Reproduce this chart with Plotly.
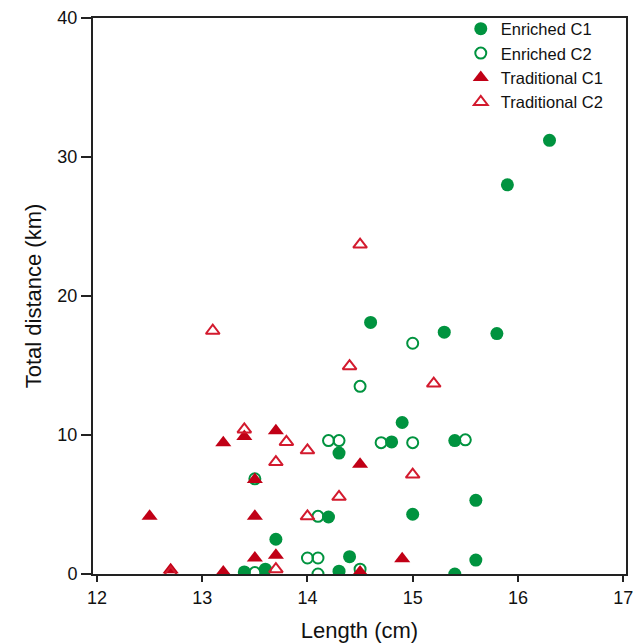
import plotly.graph_objects as go

# Enriched C1 (filled circles)
enr_c1_x = [16.3, 15.9, 14.6, 15.3, 15.8, 14.9, 14.8, 15.4, 14.3, 14.2, 15.0, 15.6, 15.6, 15.4, 14.4, 14.3, 13.7, 13.4, 13.6]
enr_c1_y = [31.2, 28.0, 18.1, 17.4, 17.3, 10.9, 9.5, 9.6, 8.7, 4.1, 4.3, 5.3, 1.0, 0.0, 1.25, 0.2, 2.5, 0.15, 0.35]

# Enriched C2 (open circles)
enr_c2_x = [15.0, 14.5, 14.2, 14.3, 14.7, 15.0, 15.5, 14.1, 14.0, 14.1, 14.1, 14.5, 13.5, 13.5]
enr_c2_y = [16.6, 13.5, 9.6, 9.6, 9.45, 9.45, 9.65, 4.15, 1.15, 1.15, 0.0, 0.35, 0.1, 6.85]

# Traditional C1 (filled triangles)
trad_c1_x = [12.5, 12.7, 13.2, 13.2, 13.4, 13.7, 13.5, 13.5, 13.5, 13.7, 14.5, 14.9, 14.5]
trad_c1_y = [4.15, 0.3, 9.45, 0.15, 9.9, 10.3, 6.8, 4.15, 1.15, 1.35, 7.9, 1.1, 0.15]

# Traditional C2 (open triangles)
trad_c2_x = [14.5, 13.1, 14.4, 15.2, 13.4, 13.8, 14.0, 13.7, 15.0, 14.3, 14.0, 13.7, 12.7]
trad_c2_y = [23.7, 17.5, 14.95, 13.7, 10.4, 9.5, 8.9, 8.05, 7.15, 5.55, 4.15, 0.35, 0.1]

x_ticks = [12, 13, 14, 15, 16, 17]
y_ticks = [0, 10, 20, 30, 40]

GREEN = "#00933F"
RED = "#C10016"
RED_OPEN = "#D31A2E"
FONT = "Liberation Sans, Arial, sans-serif"

fig = go.Figure()
fig.add_trace(go.Scatter(x=enr_c1_x, y=enr_c1_y, mode="markers", name="Enriched C1",
                         marker=dict(symbol="circle", size=13, color=GREEN, line=dict(width=0))))
fig.add_trace(go.Scatter(x=enr_c2_x, y=enr_c2_y, mode="markers", name="Enriched C2",
                         marker=dict(symbol="circle-open", size=11, color=GREEN, line=dict(width=2, color=GREEN))))
fig.add_trace(go.Scatter(x=trad_c1_x, y=trad_c1_y, mode="markers", name="Traditional C1",
                         marker=dict(symbol="triangle-up", size=14, color=RED, line=dict(width=0))))
fig.add_trace(go.Scatter(x=trad_c2_x, y=trad_c2_y, mode="markers", name="Traditional C2",
                         marker=dict(symbol="triangle-up-open", size=12, color=RED_OPEN, line=dict(width=2, color=RED_OPEN))))

fig.update_layout(
    width=638, height=644,
    margin=dict(l=93, r=12, t=17, b=70),
    paper_bgcolor="white", plot_bgcolor="white",
    font=dict(family=FONT, color="#111111"),
    showlegend=True,
    legend=dict(x=0.69, y=1.01, xanchor="left", yanchor="top",
                font=dict(size=16.5, family=FONT, color="#111111"),
                bgcolor="rgba(0,0,0,0)", itemwidth=30, tracegroupgap=0),
)
fig.update_xaxes(
    range=[11.962, 17.027], tickvals=x_ticks, ticktext=[str(v) for v in x_ticks],
    automargin=False,
    showgrid=False, zeroline=False, showline=True, linecolor="#222222", linewidth=2,
    mirror=True, ticks="outside", ticklen=6, tickwidth=2, tickcolor="#222222",
    tickfont=dict(size=18, family=FONT, color="#111111"),
    title=dict(text="Length (cm)", font=dict(size=22, family=FONT, color="#111111"), standoff=16),
)
fig.update_yaxes(
    range=[0, 40], tickvals=y_ticks, ticktext=[str(v) for v in y_ticks],
    automargin=False,
    showgrid=False, zeroline=False, showline=True, linecolor="#222222", linewidth=2,
    mirror=True, ticks="outside", ticklen=10, tickwidth=2, tickcolor="#222222",
    tickfont=dict(size=18, family=FONT, color="#111111"),
    title=dict(text="Total distance (km)", font=dict(size=22, family=FONT, color="#111111"), standoff=10),
)

fig.write_html("out.html", config={"displayModeBar": False},
               post_script="document.body.style.margin='0';")
